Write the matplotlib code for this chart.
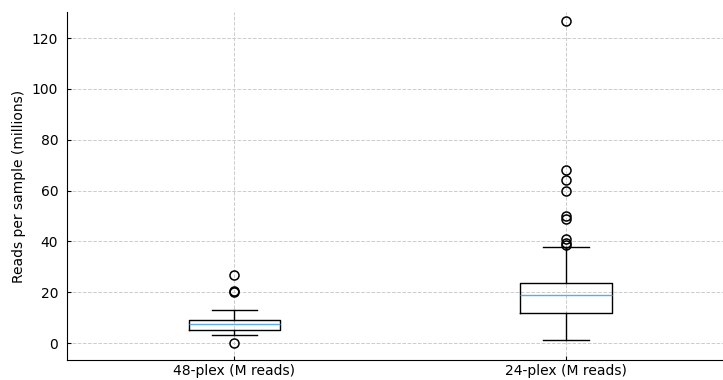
import matplotlib.pyplot as plt

labels = ["48-plex (M reads)", "24-plex (M reads)"]
q1 = [5.1, 11.9]
medians = [7.6, 18.8]
q3 = [9.0, 23.8]
whislo = [3.0, 1.3]
whishi = [13.1, 37.9]
fliers_48 = [26.6, 20.3, 20.1, 0.0]
fliers_24 = [126.7, 68.0, 64.3, 60.0, 49.9, 49.0, 40.8, 39.3, 38.6]

stats = []
for i, lab in enumerate(labels):
    stats.append({
        "label": lab,
        "q1": q1[i],
        "med": medians[i],
        "q3": q3[i],
        "whislo": whislo[i],
        "whishi": whishi[i],
        "fliers": [fliers_48, fliers_24][i],
    })

fig = plt.figure(figsize=(7.23, 3.8), dpi=100)
ax = fig.add_axes([0.092, 0.053, 0.908, 0.915])

ax.bxp(stats, positions=[1, 2], widths=0.275,
       boxprops=dict(color="black", linewidth=1.0),
       whiskerprops=dict(color="black", linewidth=1.0),
       capprops=dict(color="black", linewidth=1.0),
       medianprops=dict(color="#5aaee8", linewidth=1.0),
       flierprops=dict(marker="o", markerfacecolor="none",
                       markeredgecolor="black", markersize=6.5,
                       markeredgewidth=1.1))

ax.set_xlim(0.494, 2.473)
ax.set_ylim(-6.6, 130.2)
ax.set_yticks([0, 20, 40, 60, 80, 100, 120])
ax.set_ylabel("Reads per sample (millions)", fontsize=10)
ax.tick_params(axis="both", direction="in", length=3, labelsize=10)
ax.tick_params(axis="x", pad=3)
ax.tick_params(axis="y", pad=6)
ax.grid(True, linestyle="--", color="#cccccc", linewidth=0.7)
ax.set_axisbelow(True)
for s in ["top", "right"]:
    ax.spines[s].set_visible(False)

fig.savefig("out.png", dpi=100)
